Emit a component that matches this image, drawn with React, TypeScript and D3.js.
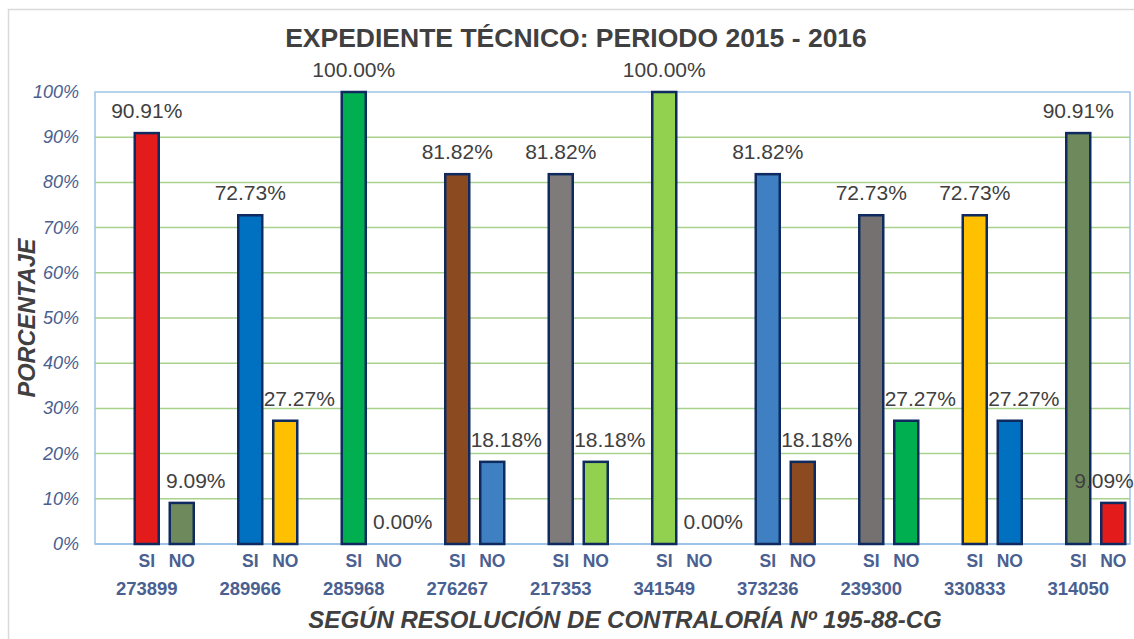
import React from "react";
import * as d3 from "d3";

const groups = ["273899", "289966", "285968", "276267", "217353", "341549", "373236", "239300", "330833", "314050"];
const siValues = [90.91, 72.73, 100, 81.82, 81.82, 100, 81.82, 72.73, 72.73, 90.91];
const noValues = [9.09, 27.27, 0, 18.18, 18.18, 0, 18.18, 27.27, 27.27, 9.09];
const siColors = ["#E41B1B", "#0070C0", "#00B050", "#8B4A1F", "#7F7B7A", "#92D050", "#3F80C2", "#767171", "#FFC000", "#6E8A5C"];
const noColors = ["#6E8A5C", "#FFC000", "#00B050", "#3F80C2", "#92D050", "#92D050", "#8B4A1F", "#00B050", "#0070C0", "#E41B1B"];
const yTicks = [0, 10, 20, 30, 40, 50, 60, 70, 80, 90, 100];

const W = 1134;
const H = 639;
const plot = { left: 95, right: 1130, top: 92, bottom: 544 };

export default function App() {
  const x = d3.scaleBand<string>().domain(groups).range([plot.left, plot.right]).padding(0);
  const y = d3.scaleLinear().domain([0, 100]).range([plot.bottom, plot.top]);
  const barW = 24;
  const noOffset = 35;
  const labelColor = "#404040";
  const axisColor = "#4A6090";
  const font = "'Liberation Sans', Arial, sans-serif";
  const fmt = (v: number) => v.toFixed(2) + "%";

  return (
    <svg width={W} height={H} style={{ position: "absolute", left: 0, top: 0, background: "#fff" }} fontFamily={font}>
      <rect x={8.5} y={9.5} width={1140} height={660} fill="#fff" stroke="#D9D9D9" strokeWidth={1.5} />
      <text x={576} y={47} textAnchor="middle" fontSize={26.5} fontWeight="bold" fill="#404040">
        EXPEDIENTE TÉCNICO: PERIODO 2015 - 2016
      </text>
      {yTicks.filter((t) => t > 0 && t < 100).map((t) => (
        <line key={"g" + t} x1={plot.left} x2={plot.right} y1={y(t)} y2={y(t)} stroke="#A9D18E" strokeWidth={1.5} />
      ))}
      <rect x={plot.left} y={plot.top} width={plot.right - plot.left} height={plot.bottom - plot.top} fill="none" stroke="#9DC3E6" strokeWidth={1.5} />
      <line x1={plot.left} x2={plot.right} y1={plot.bottom} y2={plot.bottom} stroke="#9DC3E6" strokeWidth={2} />
      {yTicks.map((t) => (
        <text key={"t" + t} x={79} y={y(t) + 6} textAnchor="end" fontSize={18} fontStyle="italic" fill={axisColor}>
          {t}%
        </text>
      ))}
      {groups.map((g, i) => {
        const c = (x(g) as number) + x.bandwidth() / 2;
        const cn = c + noOffset;
        const lblNo = Math.min(cn + 14, 1134 - 30);
        return (
          <g key={g}>
            <rect x={c - barW / 2} y={y(siValues[i])} width={barW} height={y(0) - y(siValues[i])} fill={siColors[i]} stroke="#0E2A5E" strokeWidth={2.5} />
            {noValues[i] > 0 && (
              <rect x={cn - barW / 2} y={y(noValues[i])} width={barW} height={y(0) - y(noValues[i])} fill={noColors[i]} stroke="#0E2A5E" strokeWidth={2.5} />
            )}
            <text x={c} y={y(siValues[i]) - 15} textAnchor="middle" fontSize={21} fill={labelColor}>
              {fmt(siValues[i])}
            </text>
            <text x={lblNo} y={y(noValues[i]) - 15} textAnchor="middle" fontSize={21} fill={labelColor}>
              {fmt(noValues[i])}
            </text>
            <text x={c} y={567} textAnchor="middle" fontSize={17.5} fontWeight="bold" fill={axisColor}>SI</text>
            <text x={cn} y={567} textAnchor="middle" fontSize={17.5} fontWeight="bold" fill={axisColor}>NO</text>
            <text x={c} y={595} textAnchor="middle" fontSize={18.5} fontWeight="bold" fill={axisColor}>{g}</text>
          </g>
        );
      })}
      <text transform={`translate(35, ${(plot.top + plot.bottom) / 2}) rotate(-90)`} textAnchor="middle" fontSize={23.5} fontWeight="bold" fontStyle="italic" fill="#404040">
        PORCENTAJE
      </text>
      <text x={625} y={628} textAnchor="middle" fontSize={24} fontWeight="bold" fontStyle="italic" fill="#404040">
        SEGÚN RESOLUCIÓN DE CONTRALORÍA Nº 195-88-CG
      </text>
    </svg>
  );
}
